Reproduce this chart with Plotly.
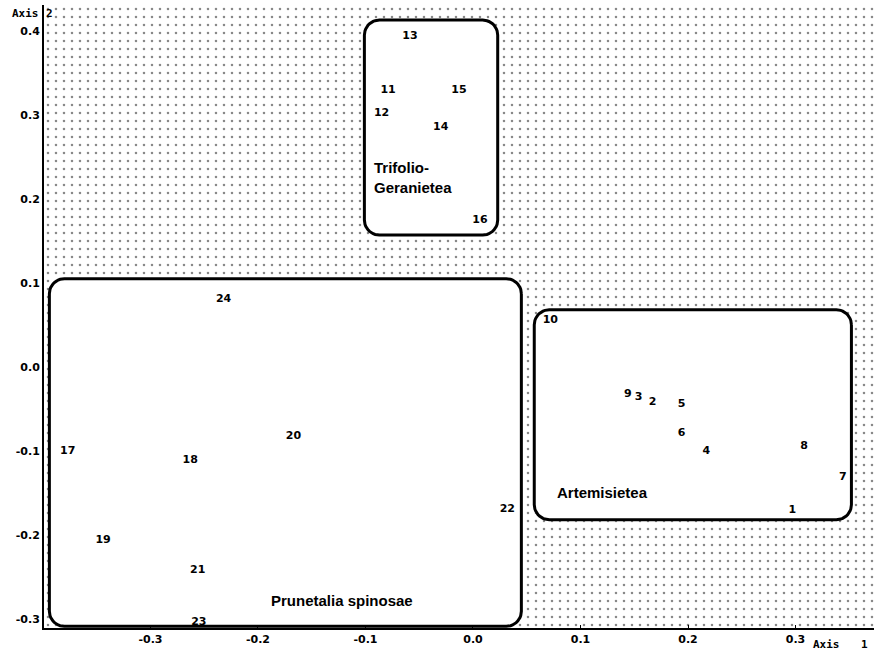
import numpy as np
import plotly.graph_objects as go

# ---- data ----
labels = ["1", "2", "3", "4", "5", "6", "7", "8", "9", "10", "11", "12",
          "13", "14", "15", "16", "17", "18", "19", "20", "21", "22", "23", "24"]
axis1 = [0.297, 0.167, 0.154, 0.217, 0.194, 0.194, 0.344, 0.308, 0.144, 0.072,
         -0.079, -0.085, -0.0586, -0.030, -0.013, 0.0065, -0.377, -0.263, -0.344,
         -0.167, -0.256, 0.032, -0.255, -0.232]
axis2 = [-0.171, -0.042, -0.036, -0.100, -0.044, -0.079, -0.132, -0.095, -0.033, 0.055,
         0.329, 0.302, 0.394, 0.285, 0.329, 0.175, -0.100, -0.111, -0.206,
         -0.083, -0.242, -0.170, -0.304, 0.080]
x_ticks = [-0.3, -0.2, -0.1, 0.0, 0.1, 0.2, 0.3]
y_ticks = [-0.3, -0.2, -0.1, 0.0, 0.1, 0.2, 0.3, 0.4]
group_names = ["Trifolio-<br>Geranietea", "Prunetalia spinosae", "Artemisietea"]

# ---- layout geometry ----
X_RANGE = [-0.399, 0.373]
Y_RANGE = [-0.311, 0.431]
W, H = 874, 658
M = dict(l=44, r=0, t=5, b=30)
PX_X = (W - M["l"] - M["r"]) / (X_RANGE[1] - X_RANGE[0])
PX_Y = (H - M["t"] - M["b"]) / (Y_RANGE[1] - Y_RANGE[0])

# group enclosures (x0, x1, y0, y1)
boxes = [(-0.101, 0.023, 0.157, 0.413),
         (-0.394, 0.045, -0.309, 0.105),
         (0.057, 0.352, -0.182, 0.068)]
# group label anchors (left, middle)
group_pos = [(-0.094, 0.226), (-0.190, -0.278), (0.076, -0.150)]


def rounded_rect(x0, x1, y0, y1, r_px=15):
    rx, ry = r_px / PX_X, r_px / PX_Y
    xs, ys = [], []
    corners = [(x1 - rx, y1 - ry, 0), (x0 + rx, y1 - ry, 90),
               (x0 + rx, y0 + ry, 180), (x1 - rx, y0 + ry, 270)]
    for cx, cy, a0 in corners:
        t = np.radians(np.linspace(a0, a0 + 90, 12))
        xs += list(cx + rx * np.cos(t))
        ys += list(cy + ry * np.sin(t))
    xs.append(xs[0]); ys.append(ys[0])
    return xs, ys


fig = go.Figure()

# dotted background
fig.add_trace(go.Scatter(
    x=[X_RANGE[0], X_RANGE[1], X_RANGE[1], X_RANGE[0], X_RANGE[0]],
    y=[Y_RANGE[0], Y_RANGE[0], Y_RANGE[1], Y_RANGE[1], Y_RANGE[0]],
    mode="lines", line=dict(width=0), fill="toself", fillcolor="white",
    fillpattern=dict(shape=".", fgcolor="#111111", bgcolor="white", size=8, solidity=0.08),
    hoverinfo="skip", showlegend=False))

for (x0, x1, y0, y1) in boxes:
    bx, by = rounded_rect(x0, x1, y0, y1)
    fig.add_trace(go.Scatter(x=bx, y=by, mode="lines", fill="toself", fillcolor="white",
                             line=dict(color="black", width=3), hoverinfo="skip",
                             showlegend=False))

fig.add_trace(go.Scatter(
    x=axis1, y=axis2, text=labels, mode="text", textposition="middle center",
    textfont=dict(family="DejaVu Sans", size=11, color="black", weight="bold"),
    showlegend=False, cliponaxis=False))

for name, (gx, gy) in zip(group_names, group_pos):
    fig.add_annotation(x=gx, y=gy, text=name, showarrow=False, xanchor="left",
                       yanchor="middle", align="left",
                       font=dict(family="Liberation Sans", size=15, color="black", weight="bold"))

# axis titles
title_font = dict(family="DejaVu Sans Mono", size=11, color="black", weight="bold")
fig.add_annotation(xref="paper", yref="paper", x=-0.004, y=0.986, text="Axis",
                   showarrow=False, xanchor="right", yanchor="middle", font=title_font)
fig.add_annotation(xref="paper", yref="paper", x=0.007, y=0.986, text="2",
                   showarrow=False, xanchor="center", yanchor="middle", font=title_font)
fig.add_annotation(xref="paper", yref="paper", x=0.943, y=-0.027, text="Axis",
                   showarrow=False, xanchor="center", yanchor="middle", font=title_font)
fig.add_annotation(xref="paper", yref="paper", x=0.988, y=-0.027, text="1",
                   showarrow=False, xanchor="center", yanchor="middle", font=title_font)

tick_font = dict(family="DejaVu Sans", size=11, color="black", weight="bold")
fig.update_xaxes(range=X_RANGE, tickvals=x_ticks, ticktext=[f"{v:.1f}" for v in x_ticks],
                 showgrid=False, zeroline=False, showline=True, linecolor="black",
                 linewidth=2, ticks="inside", ticklen=3, tickcolor="black",
                 tickfont=tick_font, automargin=False)
fig.update_yaxes(range=Y_RANGE, tickvals=y_ticks, ticktext=[f"{v:.1f}" for v in y_ticks],
                 showgrid=False, zeroline=False, showline=True, linecolor="black",
                 linewidth=2, ticks="", tickfont=tick_font, automargin=False)
fig.update_layout(width=W, height=H, margin=M, plot_bgcolor="white",
                  paper_bgcolor="white", showlegend=False)

fig.write_html("out.html", config={"displayModeBar": False},
               post_script="document.body.style.margin='0';")
